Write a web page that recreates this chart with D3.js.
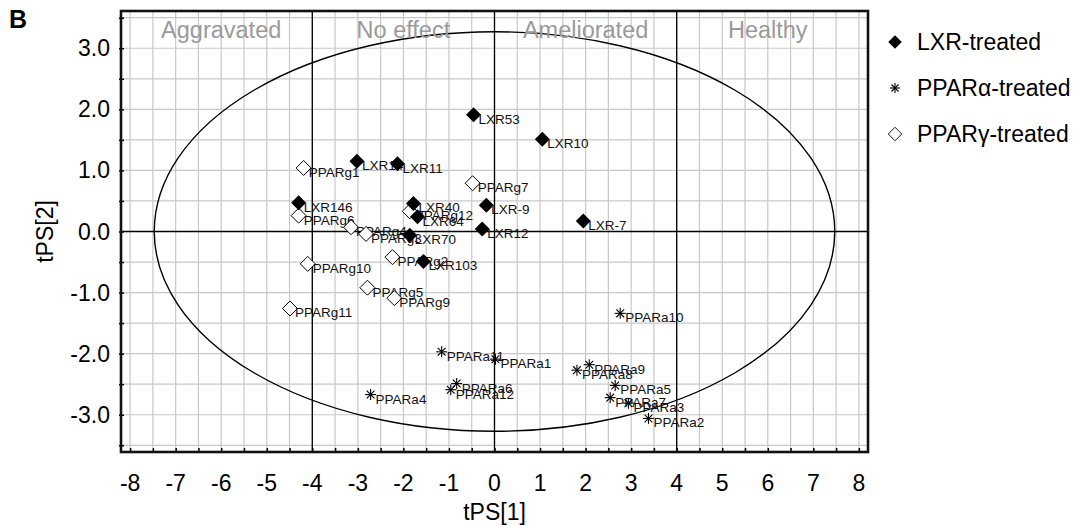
<!DOCTYPE html>
<html>
<head>
<meta charset="utf-8">
<script src="https://cdn.jsdelivr.net/npm/d3@7"></script>
<style>
  body { margin: 0; background: #fff; }
  svg { font-family: "Liberation Sans", Arial, sans-serif; }
</style>
</head>
<body>
<svg id="chart" width="1080" height="526"></svg>
<script>
// points: [name, tPS[1], tPS[2]]
var lxrPoints = [
  ["LXR53", -0.46, 1.91],
  ["LXR10", 1.05, 1.51],
  ["LXR14", -3.02, 1.15],
  ["LXR11", -2.13, 1.11],
  ["LXR146", -4.30, 0.47],
  ["LXR40", -1.78, 0.46],
  ["LXR-9", -0.18, 0.43],
  ["LXR64", -1.69, 0.24],
  ["LXR12", -0.27, 0.04],
  ["LXR70", -1.86, -0.06],
  ["LXR103", -1.56, -0.49],
  ["LXR-7", 1.95, 0.17]
]
var pparaPoints = [
  ["PPARa10", 2.76, -1.34],
  ["PPARa11", -1.16, -1.97],
  ["PPARa1", 0.02, -2.09],
  ["PPARa9", 2.08, -2.18],
  ["PPARa8", 1.81, -2.27],
  ["PPARa6", -0.83, -2.49],
  ["PPARa5", 2.65, -2.52],
  ["PPARa12", -0.96, -2.59],
  ["PPARa4", -2.72, -2.67],
  ["PPARa7", 2.54, -2.72],
  ["PPARa3", 2.94, -2.81],
  ["PPARa2", 3.38, -3.06]
]
var ppargPoints = [
  ["PPARg1", -4.19, 1.04],
  ["PPARg7", -0.48, 0.79],
  ["PPARg12", -1.86, 0.33],
  ["PPARg6", -4.30, 0.26],
  ["PPARg4", -3.15, 0.07],
  ["PPARg3", -2.82, -0.04],
  ["PPARg2", -2.24, -0.42],
  ["PPARg10", -4.10, -0.53],
  ["PPARg5", -2.79, -0.92],
  ["PPARg9", -2.20, -1.09],
  ["PPARg11", -4.49, -1.26]
]

var regionNames = ["Aggravated", "No effect", "Ameliorated", "Healthy"]
var regionCenters = [-6, -2, 2, 6]
var dividers = [-4, 0, 4]
var xTickLabels = [-8, -7, -6, -5, -4, -3, -2, -1, 0, 1, 2, 3, 4, 5, 6, 7, 8]
var yTickLabels = [-3, -2, -1, 0, 1, 2, 3]
var legendLabels = ["LXR-treated", "PPARα-treated", "PPARγ-treated"]
var ellipseRadii = [7.47, 3.27]

var margin = {top: 11, left: 121, right: 212, bottom: 74}
var width = 1080, height = 526

var svg = d3.select("#chart")

var x = d3.scaleLinear().domain([-8.2, 8.2]).range([margin.left, width - margin.right])
var y = d3.scaleLinear().domain([-3.61, 3.61]).range([height - margin.bottom, margin.top])

var plot = svg.append("g")

// light grid every 0.5
var gx = d3.range(-8, 8.01, 0.5)
var gy = d3.range(-3.5, 3.51, 0.5)
plot.append("g").selectAll("line").data(gx).enter().append("line")
  .attr("x1", function(d) { return x(d) }).attr("x2", function(d) { return x(d) })
  .attr("y1", y.range()[1]).attr("y2", y.range()[0])
  .attr("stroke", "#c8c8c8").attr("stroke-width", 1.2)
plot.append("g").selectAll("line").data(gy).enter().append("line")
  .attr("y1", function(d) { return y(d) }).attr("y2", function(d) { return y(d) })
  .attr("x1", x.range()[0]).attr("x2", x.range()[1])
  .attr("stroke", "#c8c8c8").attr("stroke-width", 1.2)

// quadrant lines
plot.append("g").selectAll("line").data(dividers).enter().append("line")
  .attr("x1", function(d) { return x(d) }).attr("x2", function(d) { return x(d) })
  .attr("y1", y.range()[1]).attr("y2", y.range()[0])
  .attr("stroke", "#000").attr("stroke-width", 1.3)
plot.append("line")
  .attr("x1", x.range()[0]).attr("x2", x.range()[1])
  .attr("y1", y(0)).attr("y2", y(0))
  .attr("stroke", "#000").attr("stroke-width", 1.3)

// ellipse
plot.append("ellipse")
  .attr("cx", x(0)).attr("cy", y(0))
  .attr("rx", x(ellipseRadii[0]) - x(0))
  .attr("ry", y(0) - y(ellipseRadii[1]))
  .attr("fill", "none").attr("stroke", "#000").attr("stroke-width", 1.4)

// region names
plot.append("g").selectAll("text").data(regionNames).enter().append("text")
  .attr("x", function(d, i) { return x(regionCenters[i]) })
  .attr("y", 38)
  .attr("text-anchor", "middle")
  .attr("font-size", 23.5)
  .attr("fill", "#9a9a9a")
  .text(function(d) { return d })

// axes
var xAxis = d3.axisBottom(x).tickValues(d3.range(-8, 8.01, 0.5)).tickSize(4).tickFormat("")
var yAxis = d3.axisLeft(y).tickValues(d3.range(-3.5, 3.51, 0.5)).tickSize(5).tickFormat("")
svg.append("g").attr("transform", "translate(0," + (y.range()[0] - 4) + ")").call(xAxis)
  .call(function(g) { g.select(".domain").remove() })
  .selectAll("line").attr("stroke-width", 1.5)
svg.append("g").attr("transform", "translate(" + (x.range()[0] + 3) + ",0)").call(yAxis)
  .call(function(g) { g.select(".domain").remove() })
  .selectAll("line").attr("stroke-width", 1.5)

svg.append("g").selectAll("text").data(xTickLabels).enter().append("text")
  .attr("x", function(d) { return x(d) })
  .attr("y", 491)
  .attr("text-anchor", "middle")
  .attr("font-size", 23)
  .text(function(d) { return d })
svg.append("g").selectAll("text").data(yTickLabels).enter().append("text")
  .attr("x", 110)
  .attr("y", function(d) { return y(d) + 8 })
  .attr("text-anchor", "end")
  .attr("font-size", 23)
  .text(function(d) { return d.toFixed(1) })

// frame
svg.append("rect")
  .attr("x", x.range()[0]).attr("y", y.range()[1])
  .attr("width", x.range()[1] - x.range()[0])
  .attr("height", y.range()[0] - y.range()[1])
  .attr("fill", "none").attr("stroke", "#111").attr("stroke-width", 2.6)

svg.append("text").attr("x", x(0)).attr("y", 520).attr("text-anchor", "middle")
  .attr("font-size", 23).text("tPS[1]")
svg.append("text").attr("transform", "translate(53," + y(0) + ") rotate(-90)")
  .attr("text-anchor", "middle").attr("font-size", 23).text("tPS[2]")
svg.append("text").attr("x", 9).attr("y", 28).attr("font-size", 25)
  .attr("font-weight", "bold").text("B")

// markers
var diamond = "M0,-7.5L7.5,0L0,7.5L-7.5,0Z"
function drawMarker(g, kind, scale) {
  scale = scale || 1
  if (kind == "lxr") {
    g.append("path").attr("d", diamond).attr("fill", "#000")
      .attr("transform", "scale(" + scale + ")")
  } else if (kind == "pparg") {
    g.append("path").attr("d", diamond).attr("fill", "#fff")
      .attr("stroke", "#000").attr("stroke-width", 1)
      .attr("transform", "scale(" + scale + ")")
  } else {
    var r = 5.5 * scale
    ;[0, 45, 90, 135].forEach(function(a) {
      var t = a * Math.PI / 180
      g.append("line")
        .attr("x1", -r * Math.cos(t)).attr("y1", -r * Math.sin(t))
        .attr("x2", r * Math.cos(t)).attr("y2", r * Math.sin(t))
        .attr("stroke", "#000").attr("stroke-width", 1.1)
    })
  }
}

function drawSeries(data, kind) {
  var pts = plot.append("g").selectAll("g").data(data).enter().append("g")
    .attr("transform", function(d) { return "translate(" + x(d[1]) + "," + y(d[2]) + ")" })
  pts.each(function() { drawMarker(d3.select(this), kind) })
  pts.append("text")
    .attr("x", 5).attr("y", 9)
    .attr("font-size", 13.5)
    .attr("fill", "#111")
    .text(function(d) { return d[0] })
}

drawSeries(ppargPoints, "pparg")
drawSeries(pparaPoints, "ppara")
drawSeries(lxrPoints, "lxr")

// legend
var kinds = ["lxr", "ppara", "pparg"]
var legend = svg.append("g").selectAll("g").data(legendLabels).enter().append("g")
  .attr("transform", function(d, i) { return "translate(895," + (42 + i * 46) + ")" })
legend.each(function(d, i) { drawMarker(d3.select(this), kinds[i], 0.9) })
legend.append("text").attr("x", 22).attr("y", 8).attr("font-size", 23)
  .text(function(d) { return d })
</script>
</body>
</html>
